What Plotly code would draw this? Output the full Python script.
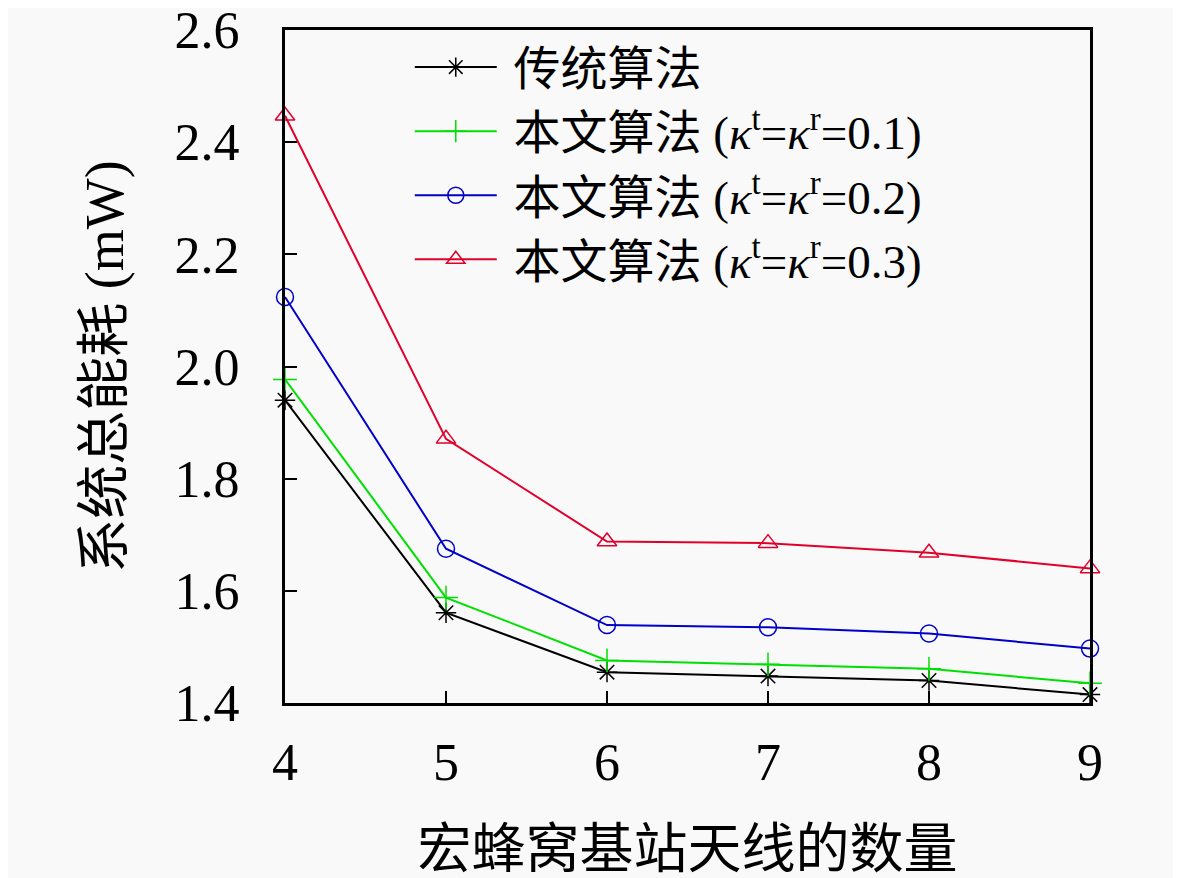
import plotly.graph_objects as go

antennas = [4, 5, 6, 7, 8, 9]

traditional = [1.94, 1.561, 1.455, 1.448, 1.440, 1.415]
proposed_01 = [1.977, 1.588, 1.476, 1.469, 1.461, 1.435]
proposed_02 = [2.124, 1.675, 1.539, 1.535, 1.524, 1.497]
proposed_03 = [2.447, 1.871, 1.688, 1.685, 1.668, 1.640]

names = [
    "\u00a0传统算法",
    "\u00a0本文算法 (<i>κ</i><sup>t</sup>=<i>κ</i><sup>r</sup>=0.1)",
    "\u00a0本文算法 (<i>κ</i><sup>t</sup>=<i>κ</i><sup>r</sup>=0.2)",
    "\u00a0本文算法 (<i>κ</i><sup>t</sup>=<i>κ</i><sup>r</sup>=0.3)",
]

series = [traditional, proposed_01, proposed_02, proposed_03]
colors = ["black", "#00e000", "#0000c8", "#e0002a"]
symbols = ["asterisk-open", "cross-thin-open", "circle-open", "triangle-up-open"]

fig = go.Figure()

for i, ys in enumerate(series):
    fig.add_trace(go.Scatter(
        x=antennas,
        y=ys,
        mode="lines+markers",
        name=names[i],
        line=dict(color=colors[i], width=2),
        marker=dict(symbol=symbols[i], size=17, color=colors[i],
                    line=dict(color=colors[i], width=1.5)),
        cliponaxis=False,
    ))

font_family = "Liberation Serif, Noto Sans CJK SC, serif"

# page body adds ~8px offset, margins compensate for it
fig.update_layout(
    width=1181,
    height=878,
    margin=dict(l=277, r=99, t=22, b=183),
    paper_bgcolor="#f9f9f9",
    plot_bgcolor="#f9f9f9",
    font=dict(family=font_family, size=52, color="black"),
    showlegend=True,
    legend=dict(
        x=0.155, y=1.0, xanchor="left", yanchor="top",
        bgcolor="rgba(0,0,0,0)", borderwidth=0,
        font=dict(size=47),
        itemwidth=82,
        tracegroupgap=0,
    ),
)

fig.update_xaxes(
    range=[4, 9],
    tickvals=antennas,
    ticks="inside", ticklen=12, tickwidth=2, tickcolor="black",
    showline=True, linewidth=3, linecolor="black", mirror=True,
    showgrid=False, zeroline=False, automargin=False,
    tickfont=dict(size=52), ticklabelstandoff=12, ticklabeloverflow="allow",
    title=dict(text="宏蜂窝基站天线的数量", font=dict(size=54), standoff=40),
)

fig.update_yaxes(
    range=[1.4, 2.6],
    tickvals=[1.4, 1.6, 1.8, 2.0, 2.2, 2.4, 2.6],
    ticktext=["1.4", "1.6", "1.8", "2.0", "2.2", "2.4", "2.6"],
    ticks="inside", ticklen=12, tickwidth=2, tickcolor="black",
    showline=True, linewidth=3, linecolor="black", mirror=True,
    showgrid=False, zeroline=False, automargin=False,
    tickfont=dict(size=52), ticklabelstandoff=32, ticklabeloverflow="allow",
    title=dict(text="系统总能耗 (mW)", font=dict(size=54), standoff=34),
)

fig.write_html("out.html")
